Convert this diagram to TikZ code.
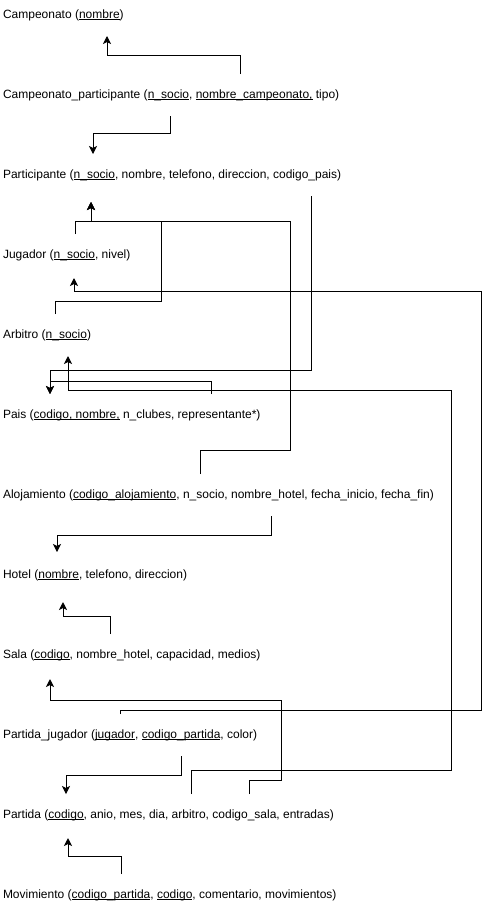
\documentclass[tikz,border=0pt]{standalone}
\usepackage{fontspec}
\setmainfont{Liberation Sans}
\usepackage{tikz}
\usetikzlibrary{arrows.meta}
\tikzset{>={Stealth[width=8pt,length=8pt,inset=2pt]}}
\newcommand\pk[1]{\setbox0\hbox{#1}\rlap{\rule[-1.8pt]{\wd0}{0.6pt}}\box0\relax}

\begin{document}
\begin{tikzpicture}[x=1pt, y=-1pt, line width=1pt,
  fk/.style={-{Stealth[width=8pt,length=8pt,inset=2pt]}},
  rel/.style={anchor=west, inner sep=0pt, outer xsep=0pt, outer ysep=15pt,
    text height=9pt, text depth=3pt, font=\fontsize{12}{14}\selectfont}]

  \useasboundingbox (0,0) rectangle (489,910);

  
  \node[rel] (camp)     at (3, 15) {Campeonato (\pk{nombre})};
  \node[rel] (campPart) at (3, 95) {Campeonato\_participante (\pk{n\_socio}, \pk{nombre\_campeonato,} tipo)};
  \node[rel] (part)     at (3,175) {Participante (\pk{n\_socio}, nombre, telefono, direccion, codigo\_pais)};
  \node[rel] (jug)      at (3,255) {Jugador (\pk{n\_socio}, nivel)};
  \node[rel] (arb)      at (3,335) {Arbitro (\pk{n\_socio})};
  \node[rel] (pais)     at (3,415) {Pais (\pk{codigo, nombre,} n\_clubes, representante*)};
  \node[rel] (aloj)     at (3,495) {Alojamiento (\pk{codigo\_alojamiento}, n\_socio, nombre\_hotel, fecha\_inicio, fecha\_fin)};
  \node[rel] (hotel)    at (3,575) {Hotel (\pk{nombre}, telefono, direccion)};
  \node[rel] (sala)     at (3,655) {Sala (\pk{codigo}, nombre\_hotel, capacidad, medios)};
  \node[rel] (partJug)  at (3,735) {Partida\_jugador (\pk{jugador}, \pk{codigo\_partida}, color)};
  \node[rel] (partida)  at (3,815) {Partida (\pk{codigo}, anio, mes, dia, arbitro, codigo\_sala, entradas)};
  \node[rel] (mov)      at (3,895) {Movimiento (\pk{codigo\_partida}, \pk{codigo}, comentario, movimientos)};

  \draw[fk] (campPart.north -| 240,0) -- (240,55) -- (107,55)
    -- (camp.south -| 107,0); % CampPart->Camp
  \draw[fk] (campPart.south -| 170,0) -- (170,133) -- (93,133)
    -- (part.north -| 93,0); % CampPart->Part

  \draw[fk,shorten >=6pt] (jug.north -| 75,0) -- (75,221) -- (91,221)
    -- (part.south -| 91,0); % Jug->Part
  \draw[fk,shorten >=6pt] (arb.north -| 55,0) -- (55,301) -- (161,301) -- (161,221)
    -- (91,221) -- (part.south -| 91,0); % Arb->Part
  \draw[fk,shorten >=6pt] (aloj.north -| 200,0) -- (200,450) -- (290,450) -- (290,221)
    -- (91,221) -- (part.south -| 91,0); % Aloj->Part

  \draw[fk] (part.south -| 311,0) -- (311,370) -- (50,370)
    -- (pais.north -| 50,0); % Part->Pais
  \draw[fk] (pais.north -| 211,0) -- (211,381) -- (50,381)
    -- (pais.north -| 50,0); % Pais->Pais

  \draw[fk,shorten >=2pt] (partJug.north -| 120,0) -- (120,710) -- (481,710) -- (481,291)
    -- (74,291) -- (jug.south -| 74,0); % PartJug->Jug
  \draw[fk] (partida.north -| 191,0) -- (191,770) -- (451,770) -- (451,390)
    -- (68,390) -- (arb.south -| 68,0); % Partida->Arb

  \draw[fk,shorten >=2pt] (aloj.south -| 271,0) -- (271,535) -- (57,535)
    -- (hotel.north -| 57,0); % Aloj->Hotel
  \draw[fk,shorten >=6pt] (sala.north -| 110,0) -- (110,616) -- (63,616)
    -- (hotel.south -| 63,0); % Sala->Hotel
  \draw[fk,shorten >=3pt] (partida.north -| 249,0) -- (249,780) -- (281,780) -- (281,700)
    -- (50,700) -- (sala.south -| 50,0); % Partida->Sala

  \draw[fk] (partJug.south -| 181,0) -- (181,775) -- (66,775)
    -- (partida.north -| 66,0); % PartJug->Partida
  \draw[fk,shorten >=2pt] (mov.north -| 121,0) -- (121,856) -- (68,856)
    -- (partida.south -| 68,0); % Mov->Partida

\end{tikzpicture}
\end{document}
